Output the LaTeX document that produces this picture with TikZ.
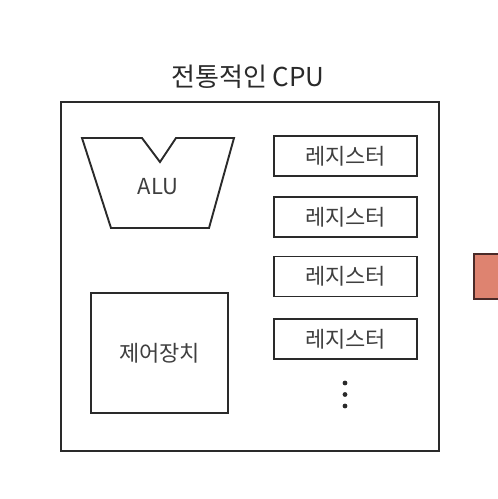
\documentclass[tikz,border=0pt]{standalone}
\usepackage{fontspec}
\setmainfont{Noto Sans CJK KR}
\definecolor{ink}{HTML}{2A2A2A}
\definecolor{salmon}{HTML}{DE8370}
\definecolor{brownedge}{HTML}{4A2A28}
\begin{document}
\begin{tikzpicture}[x=1pt,y=-1pt,
  box/.style={draw=ink,line width=1.9pt},
  reg/.style={draw=ink,line width=1.8pt,minimum width=143pt,minimum height=40pt,inner sep=0pt,font=\fontsize{22}{22}\selectfont,text=ink!90},
  lbl/.style={font=\fontsize{22}{22}\selectfont,text=ink!90}]
\useasboundingbox (0,0) rectangle (498,499);
\fill[white] (0,0) rectangle (498,499);
% title
\node[font=\fontsize{26}{26}\selectfont,text=ink] (title) at (248,77) {전통적인 CPU};
% outer CPU box
\node[box,minimum width=378pt,minimum height=349pt,inner sep=0pt] (cpu) at (250,276.5) {};
% ALU
\draw[box,line join=miter] (82,138) -- (142,138) -- (160,162) -- (176,138) -- (234,138) -- (209,228) -- (111,228) -- cycle;
\node[lbl] (alu) at (158,187) {ALU};
% control unit
\node[box,line width=1.8pt,minimum width=137pt,minimum height=120pt,inner sep=0pt,lbl] (cu) at (159.5,353) {제어장치};
% registers
\node[reg] (r1) at (345.5,156) {레지스터};
\node[reg] (r2) at (345.5,217) {레지스터};
\node[reg] (r3) at (345.5,276.5) {레지스터};
\node[reg] (r4) at (345.5,339) {레지스터};
% dots
\fill[ink] (345,383) circle (2.4pt) (345,394.5) circle (2.4pt) (345,406) circle (2.4pt);
% red block at right edge
\draw[fill=salmon,draw=brownedge,line width=1.5pt] (474,254) rectangle (505,299);
\end{tikzpicture}
\end{document}
